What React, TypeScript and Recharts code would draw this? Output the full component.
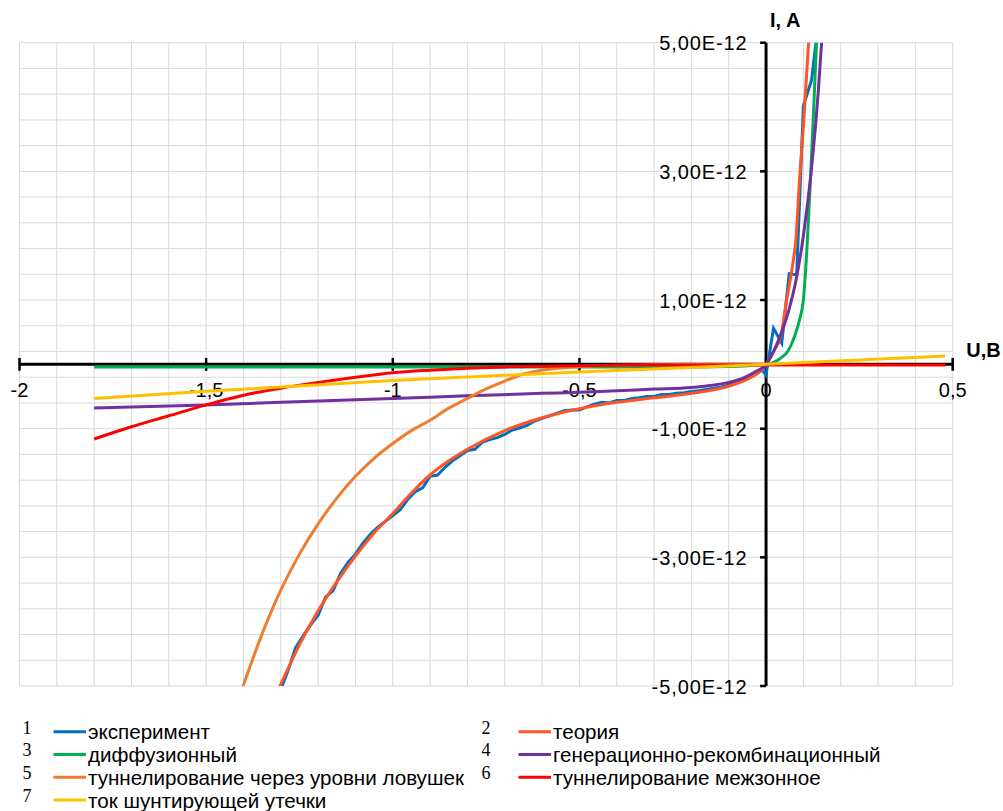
import React from "react"
import { LineChart, Line, XAxis, YAxis, ReferenceLine } from "recharts"

// все токи в пА (1e-12 A), напряжение в В
const expU = [-1.3, -1.28, -1.26, -1.24, -1.22, -1.2, -1.18, -1.16, -1.14, -1.12, -1.1, -1.08, -1.06, -1.04, -1.02, -1.0, -0.98, -0.96, -0.94, -0.92, -0.9, -0.88, -0.86, -0.84, -0.82, -0.8, -0.78, -0.76, -0.74, -0.72, -0.7, -0.68, -0.66, -0.64, -0.62, -0.6, -0.58, -0.56, -0.54, -0.52, -0.5, -0.48, -0.46, -0.44, -0.42, -0.4, -0.38, -0.36, -0.34, -0.32, -0.3, -0.28, -0.26, -0.24, -0.22, -0.2, -0.18, -0.16, -0.14, -0.12, -0.1, -0.08, -0.06, -0.04, -0.02, -0.01, 0, 0.005, 0.02, 0.042, 0.062, 0.082, 0.1, 0.122, 0.134]
const expI = [-5.05, -4.75, -4.4, -4.22, -4.05, -3.9, -3.62, -3.52, -3.25, -3.08, -2.95, -2.78, -2.64, -2.53, -2.44, -2.35, -2.26, -2.1, -1.98, -1.92, -1.74, -1.72, -1.6, -1.5, -1.42, -1.34, -1.32, -1.21, -1.17, -1.14, -1.09, -1.02, -0.99, -0.95, -0.88, -0.84, -0.8, -0.76, -0.72, -0.71, -0.71, -0.66, -0.62, -0.59, -0.6, -0.56, -0.56, -0.53, -0.52, -0.5, -0.5, -0.47, -0.47, -0.45, -0.44, -0.42, -0.41, -0.39, -0.37, -0.35, -0.32, -0.28, -0.23, -0.18, -0.12, -0.09, -0.17, 0.02, 0.56, 0.33, 1.41, 1.39, 4.02, 4.42, 5.02]

const theoryU = [-1.31, -1.25, -1.2, -1.15, -1.1, -1.05, -1.0, -0.95, -0.9, -0.85, -0.8, -0.7, -0.6, -0.5, -0.4, -0.3, -0.2, -0.1, -0.05, -0.02, 0, 0.02, 0.04, 0.055, 0.07, 0.08, 0.09, 0.1, 0.115]
const theoryI = [-5.1, -4.36, -3.83, -3.38, -2.98, -2.62, -2.32, -2.0, -1.72, -1.5, -1.32, -1.03, -0.83, -0.69, -0.59, -0.52, -0.45, -0.34, -0.23, -0.13, 0, 0.2, 0.45, 1.0, 1.5, 1.95, 2.9, 3.7, 5.1]

const diffU = [-1.8, -1.0, -0.5, -0.2, -0.1, 0, 0.02, 0.04, 0.06, 0.07, 0.08, 0.09, 0.1, 0.11, 0.12, 0.13, 0.136]
const diffI = [-0.04, -0.04, -0.04, -0.04, -0.035, 0, 0.03, 0.1, 0.22, 0.34, 0.5, 0.7, 1.0, 1.85, 3.0, 4.3, 5.1]

const grU = [-1.8, -1.5, -1.2, -1.0, -0.8, -0.6, -0.5, -0.4, -0.3, -0.2, -0.15, -0.1, -0.06, -0.03, 0, 0.02, 0.04, 0.06, 0.08, 0.1, 0.12, 0.14, 0.15]
const grI = [-0.68, -0.63, -0.57, -0.53, -0.49, -0.45, -0.435, -0.41, -0.385, -0.36, -0.33, -0.28, -0.21, -0.12, 0, 0.2, 0.47, 0.82, 1.3, 2.0, 2.95, 4.25, 5.1]

const trapU = [-1.41, -1.35, -1.3, -1.25, -1.2, -1.15, -1.1, -1.05, -1.0, -0.95, -0.9, -0.85, -0.8, -0.75, -0.7, -0.65, -0.6, -0.55, -0.5, -0.4, -0.3, -0.2, 0]
const trapI = [-5.15, -4.19, -3.51, -2.95, -2.48, -2.08, -1.74, -1.46, -1.23, -1.03, -0.87, -0.68, -0.53, -0.38, -0.26, -0.15, -0.09, -0.055, -0.035, -0.015, -0.007, 0, 0]

const bandU = [-1.8, -1.7, -1.6, -1.5, -1.4, -1.3, -1.2, -1.1, -1.0, -0.9, -0.8, -0.7, -0.6, -0.5, -0.4, -0.3, -0.2, -0.1, 0, 0.48]
const bandI = [-1.16, -0.97, -0.8, -0.63, -0.48, -0.37, -0.28, -0.2, -0.13, -0.09, -0.06, -0.04, -0.03, -0.02, -0.015, -0.01, -0.01, -0.01, -0.01, -0.01]

const shuntU = [-1.8, -1.5, -1.0, -0.5, 0, 0.48]
const shuntI = [-0.53, -0.42, -0.25, -0.12, 0, 0.13]

// сетка и подписи осей
const gridX = [-2, -1.9, -1.8, -1.7, -1.6, -1.5, -1.4, -1.3, -1.2, -1.1, -1, -0.9, -0.8, -0.7, -0.6, -0.5, -0.4, -0.3, -0.2, -0.1, 0, 0.1, 0.2, 0.3, 0.4, 0.5]
const gridY = [-5, -4.6, -4.2, -3.8, -3.4, -3, -2.6, -2.2, -1.8, -1.4, -1, -0.6, -0.2, 0.2, 0.6, 1, 1.4, 1.8, 2.2, 2.6, 3, 3.4, 3.8, 4.2, 4.6, 5]
const xTicks = [-2, -1.5, -1, -0.5, 0, 0.5]
const xTickText = ["-2", "-1,5", "-1", "-0,5", "0", "0,5"]
const yTicks = [5, 3, 1, -1, -3, -5]
const yTickText = ["5,00E-12", "3,00E-12", "1,00E-12", "-1,00E-12", "-3,00E-12", "-5,00E-12"]

const zip = (u: number[], i: number[]) => u.map((x, k) => ({ x, y: i[k] }))

const SERIES = [
	{ num: 1, name: "эксперимент", color: "#0070C0", curve: "linear", data: zip(expU, expI) },
	{ num: 2, name: "теория", color: "#FF5526", curve: "monotone", data: zip(theoryU, theoryI) },
	{ num: 3, name: "диффузионный", color: "#00B050", curve: "monotone", data: zip(diffU, diffI) },
	{ num: 4, name: "генерационно-рекомбинационный", color: "#7030A0", curve: "monotone", data: zip(grU, grI) },
	{ num: 5, name: "туннелирование через уровни ловушек", color: "#ED7D31", curve: "monotone", data: zip(trapU, trapI) },
	{ num: 6, name: "туннелирование межзонное", color: "#FF0000", curve: "monotone", data: zip(bandU, bandI) },
	{ num: 7, name: "ток шунтирующей утечки", color: "#FFC000", curve: "monotone", data: zip(shuntU, shuntI) }
]

const FONT = "'Liberation Sans', Arial, sans-serif"
const GRID = "#d9d9d9"

const XLabel = (text: string) => (p: any) => {
	const vb = p.viewBox || {}
	const cx = vb.x + (vb.width || 0) / 2
	const cy = vb.y + (vb.height || 0) / 2
	return (
		<text x={cx} y={cy + 32.5} textAnchor="middle" fontSize={20} fontFamily={FONT} fill="#000">
			{text}
		</text>
	)
}

const YLabel = (text: string) => (p: any) => {
	const vb = p.viewBox || {}
	const cy = vb.y + (vb.height || 0) / 2
	return (
		<text x={vb.x + (vb.width || 0) - 18.5} y={cy + 7.5} textAnchor="end" fontSize={20} letterSpacing={0.9} fontFamily={FONT} fill="#000">
			{text}
		</text>
	)
}

const TitleI = (p: any) => {
	const vb = p.viewBox || {}
	return (
		<text x={vb.x + 4} y={vb.y - 15.5} fontSize={20} fontWeight="bold" fontFamily={FONT} fill="#000">
			I, A
		</text>
	)
}

const TitleU = (p: any) => {
	const vb = p.viewBox || {}
	return (
		<text x={vb.x + (vb.width || 0) + 13.5} y={vb.y - 7.5} fontSize={20} fontWeight="bold" fontFamily={FONT} fill="#000">
			U,B
		</text>
	)
}

function Legend() {
	return (
		<svg width={1003} height={811} style={{ position: "absolute", left: 0, top: 0, pointerEvents: "none" }}>
			{SERIES.map((s) => {
				const row = Math.floor((s.num - 1) / 2)
				const col = (s.num - 1) % 2
				const ly = 731.7 + row * 22.8
				const nx = col === 0 ? 27 : 486
				const lx = col === 0 ? 53.5 : 518.5
				return (
					<g key={s.num}>
						<text x={nx} y={ly + 1.8} textAnchor="middle" fontSize={18} fontFamily="'Liberation Serif', 'Times New Roman', serif" fill="#000">
							{s.num}
						</text>
						<line x1={lx} x2={lx + 32.5} y1={ly} y2={ly} stroke={s.color} strokeWidth={3} />
						<text x={lx + 34.5} y={ly + 7.5} fontSize={20.6} fontFamily={FONT} fill="#000">
							{s.name}
						</text>
					</g>
				)
			})}
		</svg>
	)
}

export default function App() {
	return (
		<div style={{ position: "absolute", left: 0, top: 0, width: 1003, height: 811, background: "#fff" }}>
			<LineChart width={1003} height={700} margin={{ top: 42.7, right: 50.3, bottom: 14, left: 19.5 }}>
				<XAxis
					type="number"
					dataKey="x"
					domain={[-2, 0.5]}
					ticks={gridX}
					allowDataOverflow
					tick={false}
					tickLine={false}
					axisLine={false}
					height={0}
				/>
				<YAxis
					type="number"
					dataKey="y"
					domain={[-5, 5]}
					ticks={gridY}
					allowDataOverflow
					tick={false}
					tickLine={false}
					axisLine={false}
					width={0}
				/>

				{/* сетка */}
				{gridX.map((v) => (
					<ReferenceLine key={"gx" + v} x={v} stroke={GRID} strokeWidth={1} zIndex={100} />
				))}
				{gridY.map((v) => (
					<ReferenceLine key={"gy" + v} y={v} stroke={GRID} strokeWidth={1} zIndex={100} />
				))}

				<ReferenceLine y={0} stroke="#000" strokeWidth={3} label={TitleU} zIndex={300} />
				<ReferenceLine x={0} stroke="#000" strokeWidth={3} label={TitleI} zIndex={300} />
				{xTicks.map((t, k) => (
					<ReferenceLine
						key={"xt" + k}
						segment={[{ x: t, y: -0.1 }, { x: t, y: 0.1 }]}
						stroke="#000"
						strokeWidth={2.5}
						label={XLabel(xTickText[k])}
						zIndex={300}
					/>
				))}
				{yTicks.map((t, k) => (
					<ReferenceLine
						key={"yt" + k}
						segment={[{ x: -0.016, y: t }, { x: 0, y: t }]}
						stroke="#000"
						strokeWidth={2.5}
						label={YLabel(yTickText[k])}
						zIndex={300}
					/>
				))}

				{SERIES.map((s) => (
					<Line
						key={s.num}
						data={s.data}
						dataKey="y"
						type={s.curve as any}
						stroke={s.color}
						strokeWidth={3}
						dot={false}
						activeDot={false}
						isAnimationActive={false}
					/>
				))}
			</LineChart>
			<Legend />
		</div>
	)
}
